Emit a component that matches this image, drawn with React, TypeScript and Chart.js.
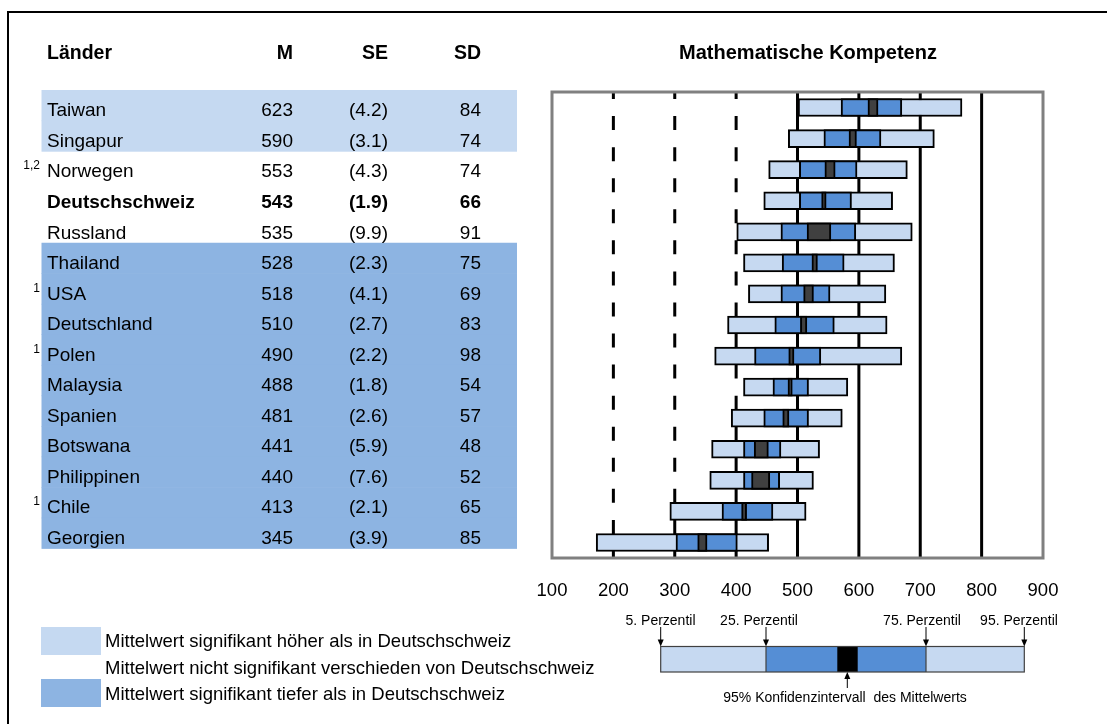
import React, { useEffect, useRef } from 'react';
import { Chart, registerables } from 'chart.js';

Chart.register(...registerables);

// ---- data ----
const countries = [
  'Taiwan', 'Singapur', 'Norwegen', 'Deutschschweiz', 'Russland', 'Thailand', 'USA',
  'Deutschland', 'Polen', 'Malaysia', 'Spanien', 'Botswana', 'Philippinen', 'Chile', 'Georgien',
];
const footnotes = ['', '', '1,2', '', '', '', '1', '', '1', '', '', '', '', '1', ''];
const means = [623, 590, 553, 543, 535, 528, 518, 510, 490, 488, 481, 441, 440, 413, 345];
const standardErrors = [4.2, 3.1, 4.3, 1.9, 9.9, 2.3, 4.1, 2.7, 2.2, 1.8, 2.6, 5.9, 7.6, 2.1, 3.9];
const standardDeviations = [84, 74, 74, 66, 91, 75, 69, 83, 98, 54, 57, 48, 52, 65, 85];
const percentile5 = [501, 485, 453, 445, 401, 412, 420, 386, 365, 412, 392, 360, 357, 292, 172];
const percentile25 = [571, 543, 503, 503, 473, 475, 473, 463, 430, 460, 445, 412, 412, 377, 302];
const percentile75 = [670, 636, 597, 588, 595, 576, 553, 560, 538, 518, 518, 473, 471, 460, 402];
const percentile95 = [768, 723, 679, 655, 687, 658, 644, 646, 670, 582, 573, 536, 526, 514, 453];
// 'higher' / 'same' / 'lower' compared with Deutschschweiz
const significance = [
  'higher', 'higher', 'same', 'same', 'same', 'lower', 'lower', 'lower',
  'lower', 'lower', 'lower', 'lower', 'lower', 'lower', 'lower',
];
const referenceRow = 3;
const scaleMin = 100;
const scaleMax = 900;
const dashedGuides = [200, 300, 400];
const solidGuides = [500, 600, 700, 800];

const title = 'Mathematische Kompetenz';
const tableHeaders = ['Länder', 'M', 'SE', 'SD'];
const legendTexts = [
  'Mittelwert signifikant höher als in Deutschschweiz',
  'Mittelwert nicht signifikant verschieden von Deutschschweiz',
  'Mittelwert signifikant tiefer als in Deutschschweiz',
];
const keyLabels = ['5. Perzentil', '25. Perzentil', '75. Perzentil', '95. Perzentil'];
const keyCaption = '95% Konfidenzintervall  des Mittelwerts';

// ---- styling ----
const FONT = '"Liberation Sans", Arial, sans-serif';
const LIGHT = '#C6D9F1';
const MID = '#558ED5';
const CI_FILL = '#404040';
const BAND_HIGH = '#C5D9F1';
const BAND_LOW = '#8DB4E2';

const ciLow = means.map((m, i) => m - 1.96 * standardErrors[i]);
const ciHigh = means.map((m, i) => m + 1.96 * standardErrors[i]);

function arrow(ctx: CanvasRenderingContext2D, x: number, y1: number, y2: number) {
  // line from y1 to y2 with a filled head at y2
  const dir = y2 > y1 ? 1 : -1;
  ctx.beginPath();
  ctx.moveTo(x, y1);
  ctx.lineTo(x, y2 - dir * 6);
  ctx.lineWidth = 1;
  ctx.strokeStyle = '#000';
  ctx.stroke();
  ctx.beginPath();
  ctx.moveTo(x, y2);
  ctx.lineTo(x - 3, y2 - dir * 7);
  ctx.lineTo(x + 3, y2 - dir * 7);
  ctx.closePath();
  ctx.fillStyle = '#000';
  ctx.fill();
}

const decor = {
  id: 'decor',
  beforeDraw(chart: any) {
    const ctx: CanvasRenderingContext2D = chart.ctx;
    ctx.save();
    ctx.fillStyle = '#fff';
    ctx.fillRect(0, 0, chart.width, chart.height);
    // outer frame (top and left)
    ctx.strokeStyle = '#000';
    ctx.lineWidth = 2;
    ctx.beginPath();
    ctx.moveTo(8, chart.height);
    ctx.lineTo(8, 12);
    ctx.lineTo(chart.width, 12);
    ctx.stroke();
    // table bands
    const rowTop = 90;
    const pitch = 30.55;
    significance.forEach((s, i) => {
      if (s === 'same') return;
      ctx.fillStyle = s === 'higher' ? BAND_HIGH : BAND_LOW;
      ctx.fillRect(41.5, rowTop + pitch * i, 475.5, pitch + 0.6);
    });
    // legend swatches
    ctx.fillStyle = BAND_HIGH;
    ctx.fillRect(41, 627, 60, 28);
    ctx.fillStyle = BAND_LOW;
    ctx.fillRect(41, 679, 60, 28);
    ctx.restore();
  },
  beforeDatasetsDraw(chart: any) {
    const ctx: CanvasRenderingContext2D = chart.ctx;
    const { top, bottom, left, right } = chart.chartArea;
    const xs = chart.scales.x;
    const ys = chart.scales.y;
    const rowPitch = Math.abs(ys.getPixelForValue(1) - ys.getPixelForValue(0));
    ctx.save();
    ctx.beginPath();
    ctx.rect(left, top, right - left, bottom - top);
    ctx.clip();
    ctx.strokeStyle = '#000';
    ctx.lineWidth = 3;
    dashedGuides.forEach((v) => {
      const x = xs.getPixelForValue(v);
      ctx.setLineDash([14, rowPitch - 14]);
      ctx.lineDashOffset = 7;
      ctx.beginPath();
      ctx.moveTo(x, top);
      ctx.lineTo(x, bottom + 10);
      ctx.stroke();
    });
    ctx.setLineDash([]);
    solidGuides.forEach((v) => {
      const x = xs.getPixelForValue(v);
      ctx.beginPath();
      ctx.moveTo(x, top);
      ctx.lineTo(x, bottom);
      ctx.stroke();
    });
    ctx.restore();
  },
  afterDatasetsDraw(chart: any) {
    const ctx: CanvasRenderingContext2D = chart.ctx;
    const { top, bottom, left, right } = chart.chartArea;
    ctx.save();
    ctx.strokeStyle = '#808080';
    ctx.lineWidth = 3;
    ctx.strokeRect(left, top, right - left, bottom - top);
    ctx.restore();
  },
  afterDraw(chart: any) {
    const ctx: CanvasRenderingContext2D = chart.ctx;
    ctx.save();
    ctx.fillStyle = '#000';
    ctx.textBaseline = 'alphabetic';

    // title
    ctx.font = `bold 20px ${FONT}`;
    ctx.textAlign = 'center';
    ctx.fillText(title, 808, 59);

    // table header
    const colRight = [293, 388, 481];
    ctx.font = `bold 19.5px ${FONT}`;
    ctx.textAlign = 'left';
    ctx.fillText(tableHeaders[0], 47, 59);
    ctx.textAlign = 'right';
    tableHeaders.slice(1).forEach((h, k) => ctx.fillText(h, colRight[k], 59));

    // table rows
    const pitch = 30.55;
    countries.forEach((c, i) => {
      const base = 116.3 + pitch * i;
      const bold = i === referenceRow;
      ctx.font = `${bold ? 'bold ' : ''}19px ${FONT}`;
      ctx.textAlign = 'left';
      ctx.fillText(c, 47, base);
      ctx.textAlign = 'right';
      ctx.fillText(String(means[i]), colRight[0], base);
      ctx.fillText(`(${standardErrors[i].toFixed(1)})`, colRight[1], base);
      ctx.fillText(String(standardDeviations[i]), colRight[2], base);
      if (footnotes[i]) {
        ctx.font = `12px ${FONT}`;
        ctx.fillText(footnotes[i], 40, base - 8);
      }
    });

    // legend texts
    ctx.font = `18.5px ${FONT}`;
    ctx.textAlign = 'left';
    ctx.fillText(legendTexts[0], 105, 647);
    ctx.fillText(legendTexts[1], 105, 674);
    ctx.fillText(legendTexts[2], 105, 699.5);

    // key graphic
    const kTop = 646.5;
    const kBottom = 672;
    const kx = [660.7, 766, 837.3, 857.7, 926, 1024.3];
    ctx.fillStyle = LIGHT;
    ctx.fillRect(kx[0], kTop, kx[5] - kx[0], kBottom - kTop);
    ctx.fillStyle = MID;
    ctx.fillRect(kx[1], kTop, kx[4] - kx[1], kBottom - kTop);
    ctx.fillStyle = '#000';
    ctx.fillRect(kx[2], kTop, kx[3] - kx[2], kBottom - kTop);
    ctx.strokeStyle = '#404040';
    ctx.lineWidth = 1.2;
    ctx.strokeRect(kx[0], kTop, kx[5] - kx[0], kBottom - kTop);
    [kx[1], kx[4]].forEach((x) => {
      ctx.beginPath();
      ctx.moveTo(x, kTop);
      ctx.lineTo(x, kBottom);
      ctx.stroke();
    });
    const labelCenters = [660.5, 759, 922, 1019];
    const arrowXs = [kx[0], kx[1], kx[4], kx[5]];
    ctx.font = `14px ${FONT}`;
    ctx.textAlign = 'center';
    keyLabels.forEach((t, k) => {
      ctx.fillStyle = '#000';
      ctx.fillText(t, labelCenters[k], 625);
      arrow(ctx, arrowXs[k], 627, kTop);
    });
    arrow(ctx, 847.3, 688, kBottom);
    ctx.fillStyle = '#000';
    ctx.fillText(keyCaption, 845, 701.5);
    ctx.restore();
  },
};

export default function App() {
  const ref = useRef<HTMLCanvasElement | null>(null);
  useEffect(() => {
    if (!ref.current) return;
    const chart = new Chart(ref.current, {
      type: 'bar',
      data: {
        labels: countries,
        datasets: [
          {
            label: 'Konfidenzintervall',
            data: countries.map((_, i) => [ciLow[i], ciHigh[i]]),
            backgroundColor: CI_FILL,
            order: 1,
          },
          {
            label: '25.–75. Perzentil',
            data: countries.map((_, i) => [percentile25[i], percentile75[i]]),
            backgroundColor: MID,
            order: 2,
          },
          {
            label: '5.–95. Perzentil',
            data: countries.map((_, i) => [percentile5[i], percentile95[i]]),
            backgroundColor: LIGHT,
            order: 3,
          },
        ].map((d) => ({
          ...d,
          borderColor: '#000',
          borderWidth: 2,
          borderSkipped: false,
          grouped: false,
          barThickness: 18,
        })) as any,
      },
      options: {
        indexAxis: 'y',
        animation: false,
        responsive: false,
        devicePixelRatio: 1,
        layout: { padding: { left: 552, right: 64, top: 92, bottom: 0 } },
        plugins: { legend: { display: false }, tooltip: { enabled: false }, title: { display: false } },
        scales: {
          x: {
            type: 'linear',
            min: scaleMin,
            max: scaleMax,
            afterFit: (scale: any) => {
              scale.height = 166;
            },
            grid: { display: false, drawTicks: false },
            border: { display: false },
            ticks: {
              stepSize: 100,
              padding: 22,
              maxRotation: 0,
              autoSkip: false,
              color: '#000',
              font: { family: FONT, size: 18.5 },
            },
          },
          y: {
            type: 'category',
            display: false,
            offset: true,
            grid: { display: false },
          },
        },
      } as any,
      plugins: [decor],
    });
    return () => chart.destroy();
  }, []);
  return (
    <div style={{ position: 'absolute', left: 0, top: 0, width: 1107, height: 724 }}>
      <canvas ref={ref} width={1107} height={724} style={{ width: 1107, height: 724 }} />
    </div>
  );
}
